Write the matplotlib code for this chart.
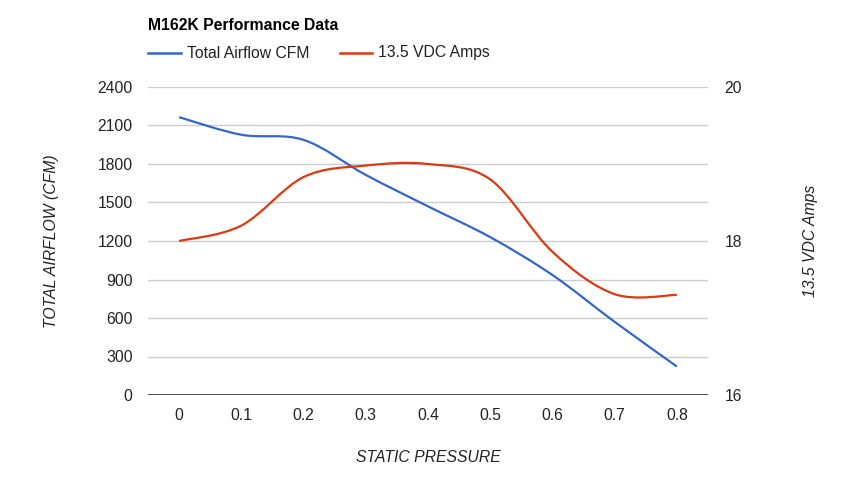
import numpy as np
import matplotlib
matplotlib.use("Agg")
import matplotlib.pyplot as plt
from matplotlib.path import Path
from matplotlib.patches import PathPatch
from matplotlib.lines import Line2D

plt.rcParams['font.family'] = ['Liberation Sans', 'DejaVu Sans']

# data
pressure = ['0', '0.1', '0.2', '0.3', '0.4', '0.5', '0.6', '0.7', '0.8']
airflow_cfm = [2165, 2028, 1988, 1715, 1470, 1230, 935, 570, 222]
amps = [18.0, 18.2, 18.83, 18.98, 19.0, 18.8, 17.86, 17.31, 17.3]
left_ticks = [0, 300, 600, 900, 1200, 1500, 1800, 2100, 2400]
right_ticks = [16, 18, 20]
series_names = ['Total Airflow CFM', '13.5 VDC Amps']

BLUE = '#3366cc'
RED = '#dc3912'
TXT = '#222222'
FS = 11.3


def smooth_path(xs, ys):
    # cubic Bezier through the points (Catmull-Rom style control points)
    xs = np.asarray(xs, float)
    ys = np.asarray(ys, float)
    n = len(xs)
    verts = [(xs[0], ys[0])]
    codes = [Path.MOVETO]
    for i in range(n - 1):
        x0, y0 = (xs[i - 1], ys[i - 1]) if i > 0 else (xs[i], ys[i])
        x3, y3 = (xs[i + 2], ys[i + 2]) if i + 2 < n else (xs[i + 1], ys[i + 1])
        c1 = (xs[i] + (xs[i + 1] - x0) / 6, ys[i] + (ys[i + 1] - y0) / 6)
        c2 = (xs[i + 1] - (x3 - xs[i]) / 6, ys[i + 1] - (y3 - ys[i]) / 6)
        verts += [c1, c2, (xs[i + 1], ys[i + 1])]
        codes += [Path.CURVE4] * 3
    return Path(verts, codes)


fig = plt.figure(figsize=(8.56, 4.82), dpi=100)
ax = fig.add_axes([148 / 856, 1 - 395 / 482, 560 / 856, 308 / 482])
ax2 = ax.twinx()

x = np.arange(len(pressure))
ax.set_xlim(-0.5, len(pressure) - 0.5)
ax.set_ylim(0, 2400)
ax2.set_ylim(16, 20)

for t in left_ticks[1:]:
    ax.axhline(t, color='#cccccc', linewidth=1, zorder=0)
ax.axhline(0, color='#333333', linewidth=1.2, zorder=1)

ax.add_patch(PathPatch(smooth_path(x, airflow_cfm), facecolor='none',
                       edgecolor=BLUE, linewidth=1.6, zorder=3))
ax2.add_patch(PathPatch(smooth_path(x, amps), facecolor='none',
                        edgecolor=RED, linewidth=1.6, zorder=3))

for a in (ax, ax2):
    for s in a.spines.values():
        s.set_visible(False)

ax.set_xticks(x)
ax.set_xticklabels(pressure)
ax.set_yticks(left_ticks)
ax.set_yticklabels([str(t) for t in left_ticks])
ax2.set_yticks(right_ticks)
ax.tick_params(axis='both', length=0, labelsize=FS, colors=TXT)
ax.tick_params(axis='y', pad=11)
ax.tick_params(axis='x', pad=9)
ax2.tick_params(axis='y', length=0, labelsize=FS, colors=TXT, pad=12)

ax.set_xlabel('STATIC PRESSURE', fontsize=FS, style='italic', color=TXT, labelpad=20)
ax.set_ylabel('TOTAL AIRFLOW (CFM)', fontsize=FS, style='italic', color=TXT, labelpad=28)
ax2.set_ylabel('13.5 VDC Amps', fontsize=FS, style='italic', color=TXT,
               rotation=90, labelpad=44)

fig.text(148 / 856, 1 - 26 / 482, 'M162K Performance Data', fontsize=FS,
         fontweight='bold', color='black', va='center')

# legend drawn by hand to match the placement
ly = 1 - 53 / 482
for (x0, x1), name, col in zip([(148, 181), (340, 372)], series_names, [BLUE, RED]):
    fig.add_artist(Line2D([x0 / 856, x1 / 856], [ly, ly], color=col, linewidth=1.8))
    fig.text((x1 + 6) / 856, ly, name, fontsize=FS, color=TXT, va='center')

plt.savefig('out.png', dpi=100)
